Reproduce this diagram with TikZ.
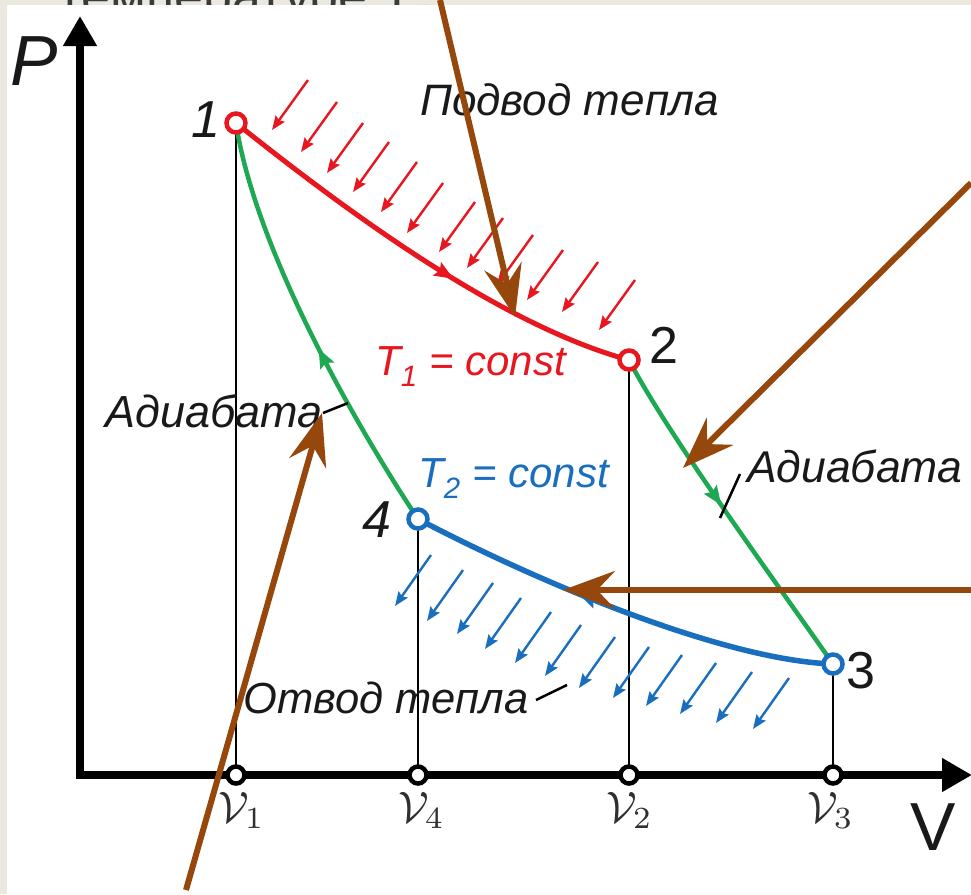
\documentclass[tikz,border=0pt]{standalone}
\usepackage{fontspec}
\setmainfont{Liberation Sans}
\usetikzlibrary{arrows.meta,decorations.markings}
\definecolor{bg}{RGB}{235,233,223}
\definecolor{cred}{RGB}{232,22,30}
\definecolor{cgreen}{RGB}{30,168,82}
\definecolor{cblue}{RGB}{25,110,190}
\definecolor{cbrown}{RGB}{150,72,12}
\definecolor{ink}{RGB}{25,25,25}
\newcommand{\fs}[1]{\fontsize{#1}{#1}\selectfont}
\newcommand{\vsym}[1]{\scalebox{4.4}{$\mathcal{V}_{#1}$}}
\tikzset{
  axisline/.style={line width=8pt, -{Triangle[length=30pt,width=32pt]}},
  guide/.style={line width=1.1pt, black},
  redcurve/.style={cred, line width=5pt},
  greencurve/.style={cgreen, line width=4.5pt},
  bluecurve/.style={cblue, line width=5.5pt},
  midarrow/.style={postaction={decorate}, decoration={markings, mark=at position #1 with {\arrow{Stealth[length=19pt,width=15pt,inset=3pt]}}}},
  heatR/.style={cred, line width=2.4pt, -{Stealth[length=14pt,width=11pt,inset=2pt]}},
  heatB/.style={cblue, line width=2.4pt, -{Stealth[length=14pt,width=11pt,inset=2pt]}},
  brownarrow/.style={cbrown, line width=6pt, -{Stealth[length=52pt,width=38pt,inset=18pt]}},
  ptR/.style={circle, draw=cred, fill=white, line width=4.5pt, minimum size=19pt, inner sep=0pt},
  ptB/.style={circle, draw=cblue, fill=white, line width=4.5pt, minimum size=19pt, inner sep=0pt},
  tick/.style={circle, draw=black, fill=white, line width=4.5pt, minimum size=17pt, inner sep=0pt},
  lbl/.style={inner sep=0pt, text=ink, font=\fs{42}\itshape, anchor=base west},
  num/.style={inner sep=0pt, text=ink, anchor=base},
  vlbl/.style={inner sep=0pt, text=ink!90, anchor=base west, font=\fs{10}},
  leader/.style={line width=2.5pt, black}
}
\begin{document}
\begin{tikzpicture}[x=1pt,y=-1pt]
\useasboundingbox (0,0) rectangle (971,894);
\fill[bg] (0,0) rectangle (971,894);
\node[anchor=base west, inner sep=0pt, text=ink!85, font=\fs{52}] (toptext) at (58,14) {температуре Т\textsubscript{1}};
\fill[white] (7,5) rectangle (971,894);

% key coordinates
\coordinate (p1c) at (236,123);
\coordinate (p2c) at (629,360);
\coordinate (p3c) at (833,664);
\coordinate (p4c) at (418,519);
\coordinate (a1) at (236,775);
\coordinate (a4) at (418,775);
\coordinate (a2) at (629,775);
\coordinate (a3) at (833,775);
\coordinate (ytip) at (80,16);
\coordinate (xtip) at (972,775);

% guide lines
\draw[guide] (p1c) -- (a1);
\draw[guide] (p4c) -- (a4);
\draw[guide] (p2c) -- (a2);
\draw[guide] (p3c) -- (a3);

% axes
\draw[axisline] (80,779) -- (ytip);
\draw[axisline] (76,775) -- (xtip);

% heat supply arrows (red)
\foreach \x/\y in {308/80, 337/102, 363/123, 389/142, 417/162, 443/183, 475/202, 503/218, 533/235, 563/250, 598/262, 635/280}
  \draw[heatR] (\x,\y) -- ++(-36,50);
% heat removal arrows (blue)
\foreach \x/\y in {431/555, 463/570, 493/583, 521/598, 551/612, 581/625, 615/637, 649/647, 682/655, 716/663, 752/672, 789/678}
  \draw[heatB] (\x,\y) -- ++(-36,51);

% cycle curves
\draw[redcurve, midarrow=0.58] (p1c) .. controls (345,210) and (500,325) .. (p2c);
\draw[greencurve, midarrow=0.47] (p2c) .. controls (668,435) and (773,578) .. (p3c);
\draw[bluecurve, midarrow=0.60] (p3c) .. controls (720,660) and (530,578) .. (p4c);
\draw[greencurve, midarrow=0.45] (p4c) .. controls (358,429) and (255,250) .. (p1c);

% state points
\node[ptR] (p1) at (p1c) {};
\node[ptR] (p2) at (p2c) {};
\node[ptB] (p3) at (p3c) {};
\node[ptB] (p4) at (p4c) {};
\node[tick] (t1) at (a1) {};
\node[tick] (t4) at (a4) {};
\node[tick] (t2) at (a2) {};
\node[tick] (t3) at (a3) {};

% numbers
\node[num, font=\fs{52}\itshape] (n1) at (206,137) {1};
\node[num, font=\fs{52}] (n2) at (664,363) {2};
\node[num, font=\fs{52}] (n3) at (861,688) {3};
\node[num, font=\fs{52}\itshape] (n4) at (377,537) {4};

% axis labels
\node[anchor=base west, inner sep=0pt, text=ink, font=\fs{71}\itshape] (lP) at (10,85) {P};
\node[anchor=base west, inner sep=0pt, text=ink, font=\fs{68}] (lV) at (910,850) {V};

% volume labels
\node[vlbl] (v1) at (218,822) {\vsym{1}};
\node[vlbl] (v4) at (398,822) {\vsym{4}};
\node[vlbl] (v2) at (606,822) {\vsym{2}};
\node[vlbl] (v3) at (807,822) {\vsym{3}};

% text labels
\node[lbl, font=\fs{44}\itshape] (supply) at (420,115) {Подвод тепла};
\node[lbl, text=cred] (t1c) at (375,375) {T\textsubscript{1} = const};
\node[lbl, text=cblue] (t2c) at (418,487) {T\textsubscript{2} = const};
\node[lbl, font=\fs{45}\itshape] (adL) at (105,427) {Адиабата};
\node[lbl, font=\fs{44.5}\itshape] (adR) at (747,482) {Адиабата};
\node[lbl, font=\fs{43.5}\itshape] (removal) at (243,713) {Отвод тепла};

% leader ticks
\coordinate (lA) at (323,413); \coordinate (lB) at (348,403);
\coordinate (lC) at (740,474); \coordinate (lD) at (720,518);
\coordinate (lE) at (536,700); \coordinate (lF) at (567,685);
\draw[leader] (lA) -- (lB);
\draw[leader] (lC) -- (lD);
\draw[leader] (lE) -- (lF);

% brown annotation arrows
\coordinate (b1s) at (440,0);   \coordinate (b1e) at (515,317);
\coordinate (b2s) at (971,183); \coordinate (b2e) at (683,468);
\coordinate (b3s) at (971,590); \coordinate (b3e) at (563,590);
\coordinate (b4s) at (186,890); \coordinate (b4e) at (322,413);
\draw[brownarrow] (b1s) -- (b1e);
\draw[brownarrow] (b2s) -- (b2e);
\draw[brownarrow] (b3s) -- (b3e);
\draw[brownarrow] (b4s) -- (b4e);
\end{tikzpicture}
\end{document}
